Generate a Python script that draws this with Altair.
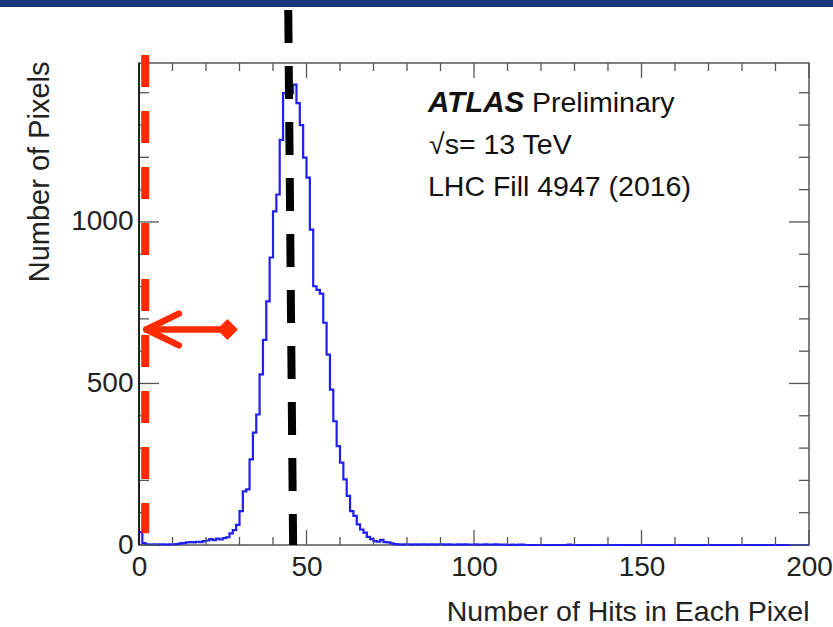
import altair as alt
import pandas as pd

# ---------------- data ----------------
hit_counts = [
    40, 6, 2, 1, 2, 1, 2, 2, 1, 2,            # 0-9
    2, 3, 5, 6, 8, 9, 8, 10, 9, 12,           # 10-19
    14, 18, 15, 20, 17, 21, 24, 36, 46, 62,   # 20-29
    105, 166, 172, 265, 348, 404, 528, 635, 754, 890,      # 30-39
    1033, 1085, 1254, 1399, 1399, 1399, 1425, 1368, 1300, 1199,  # 40-49
    1137, 976, 801, 790, 778, 688, 589, 481, 383, 306,     # 50-59
    255, 203, 152, 105, 90, 64, 48, 38, 25, 18,            # 60-69
    12, 10, 16, 9, 8, 5, 3, 2, 1, 2,                       # 70-79
    2, 1, 2, 1, 2, 2, 1, 2, 1, 2,                          # 80-89
    2, 1, 2, 1, 1, 2, 1, 2, 1, 1,                          # 90-99
    2, 1, 1, 2, 1, 1, 2, 1, 1, 1,                          # 100-109
    0, 1, 0, 1, 1, 0, 0, 0, 0, 0,                          # 110-119
    0, 0, 0, 0, 0, 0, 0, 0, 1, 0,                          # 120-129
] + [0] * 70                                               # 130-199

x_label_values = [0, 50, 100, 150, 200]
y_label_values = [0, 500, 1000]
x_minor_ticks = [v for v in range(0, 201, 10) if v % 50 != 0]
y_minor_ticks = [v for v in range(100, 1500, 100) if v % 500 != 0]

x_title = "Number of Hits in Each Pixel"
y_title = "Number of Pixels"

red_line_x = [1.85]
red_line_y = [1517, 36]
black_line_x = [44.55, 46.0]
black_line_y = [1656, 0]

arrow_shaft_x = [2.2, 26.4]
arrow_shaft_y = [667, 667]
arrow_head_x = [11.9, 2.2, 11.9]
arrow_head_y = [716, 667, 618]

text_lines = ["ATLAS", "Preliminary", "\u221As= 13 TeV", "LHC Fill 4947 (2016)"]

# ---------------- build ----------------
W, H = 670, 482
FONT = "Liberation Sans"
RED = "#ff2a00"

xs = alt.Scale(domain=[0, 200], nice=False, zero=False)
ys = alt.Scale(domain=[0, 1492], nice=False, zero=False)

x_axis = alt.Axis(
    values=x_label_values, ticks=False, tickSize=0, domain=False, grid=False,
    format="d", labelFont=FONT, labelFontSize=28, labelColor="#222",
    labelPadding=8, labelFlush=False,
    title=x_title, titleFont=FONT, titleFontSize=28.5, titleFontWeight="normal",
    titleColor="#222", titleX=W, titleY=75, titleAlign="right",
    titleBaseline="alphabetic", titleAngle=0)
y_axis = alt.Axis(
    values=y_label_values, ticks=False, tickSize=0, domain=False, grid=False,
    format="d", labelFont=FONT, labelFontSize=28, labelColor="#222",
    labelPadding=6, labelFlush=False,
    title=y_title, titleFont=FONT, titleFontSize=29, titleFontWeight="normal",
    titleColor="#222", titleX=-91, titleY=-2, titleAlign="right",
    titleBaseline="alphabetic", titleAngle=270)


def X(field):
    return alt.X(field, scale=xs, axis=x_axis, title=x_title)


def Y(field):
    return alt.Y(field, scale=ys, axis=y_axis, title=y_title)


step_x = [0] + list(range(0, 200)) + [200]
step_y = [0] + hit_counts + [hit_counts[-1]]
hist_df = pd.DataFrame({"hits": step_x, "pixels": step_y, "o": list(range(len(step_x)))})

hist = alt.Chart(hist_df).mark_line(
    interpolate="step-after", color="#1f1ff2", strokeWidth=2.2
).encode(x=X("hits:Q"), y=Y("pixels:Q"), order="o:Q")


def xticks(vals, length, top=False):
    df = pd.DataFrame({"t": vals})
    if top:
        yy, yy2 = alt.value(0), alt.value(length)
    else:
        yy, yy2 = alt.value(H), alt.value(H - length)
    return alt.Chart(df).mark_rule(color="#555", strokeWidth=1.3).encode(
        x=X("t:Q"), y=yy, y2=yy2)


def yticks(vals, length, right=False):
    df = pd.DataFrame({"t": vals})
    if right:
        xx, xx2 = alt.value(W), alt.value(W - length)
    else:
        xx, xx2 = alt.value(0), alt.value(length)
    return alt.Chart(df).mark_rule(color="#555", strokeWidth=1.3).encode(
        y=Y("t:Q"), x=xx, x2=xx2)


tick_layers = [
    xticks(x_label_values, 15), xticks(x_minor_ticks, 8),
    xticks(x_label_values, 15, top=True), xticks(x_minor_ticks, 8, top=True),
    yticks(y_label_values, 20), yticks(y_minor_ticks, 10),
    yticks(y_label_values, 20, right=True), yticks(y_minor_ticks, 10, right=True),
]

left_axis = alt.Chart(pd.DataFrame({"a": [0]})).mark_rule(color="#222", strokeWidth=2).encode(
    x=alt.value(0), y=alt.value(0), y2=alt.value(H))

red_df = pd.DataFrame({"x": red_line_x, "y": [red_line_y[0]], "y2": [red_line_y[1]]})
red_line = alt.Chart(red_df).mark_rule(
    color=RED, strokeWidth=8, strokeDash=[32, 24], strokeCap="butt"
).encode(x=X("x:Q"), y=Y("y:Q"), y2="y2:Q")

black_df = pd.DataFrame({"x": [black_line_x[0]], "x2": [black_line_x[1]],
                         "y": [black_line_y[0]], "y2": [black_line_y[1]]})
black_line = alt.Chart(black_df).mark_rule(
    color="#000", strokeWidth=8, strokeDash=[33, 23], strokeCap="butt"
).encode(x=X("x:Q"), x2="x2:Q", y=Y("y:Q"), y2="y2:Q")

shaft = alt.Chart(pd.DataFrame({"x": arrow_shaft_x, "y": arrow_shaft_y, "o": [0, 1]})).mark_line(
    color=RED, strokeWidth=6.5, strokeCap="round"
).encode(x=X("x:Q"), y=Y("y:Q"), order="o:Q")

head = alt.Chart(pd.DataFrame({"x": arrow_head_x, "y": arrow_head_y, "o": [0, 1, 2]})).mark_line(
    color=RED, strokeWidth=6.5, strokeCap="round", strokeJoin="round"
).encode(x=X("x:Q"), y=Y("y:Q"), order="o:Q")

diamond = alt.Chart(pd.DataFrame({"x": [arrow_shaft_x[1]], "y": [arrow_shaft_y[1]]})).mark_point(
    shape="diamond", filled=True, size=440, color=RED, opacity=1
).encode(x=X("x:Q"), y=Y("y:Q"))


def label(txt, px, py, size=28.5, bold=False, italic=False):
    kw = dict(align="left", baseline="alphabetic", font=FONT, fontSize=size, color="#111")
    if bold:
        kw["fontWeight"] = "bold"
    if italic:
        kw["fontStyle"] = "italic"
    return alt.Chart(pd.DataFrame({"t": [txt]})).mark_text(**kw).encode(
        text="t:N", x=alt.value(px), y=alt.value(py))


texts = [
    label(text_lines[0], 289, 49, size=29.5, bold=True, italic=True),
    label(text_lines[1], 393, 49),
    label(text_lines[2], 290, 91),
    label(text_lines[3], 289, 133),
]

top_bar = alt.Chart(pd.DataFrame({"a": [0]})).mark_rect(color="#16387a").encode(
    x=alt.value(-139), x2=alt.value(W + 24), y=alt.value(-63), y2=alt.value(-56))

chart = alt.layer(
    hist, *tick_layers, left_axis, red_line, black_line, shaft, head, diamond, *texts, top_bar
).properties(
    width=W, height=H,
    padding={"left": 139, "top": 63, "right": 24, "bottom": 82},
    autosize=alt.AutoSizeParams(type="none"),
    background="white",
).configure_view(stroke="#555", strokeWidth=1.5)

chart.save("out.html", embed_options={"renderer": "svg", "actions": False})
